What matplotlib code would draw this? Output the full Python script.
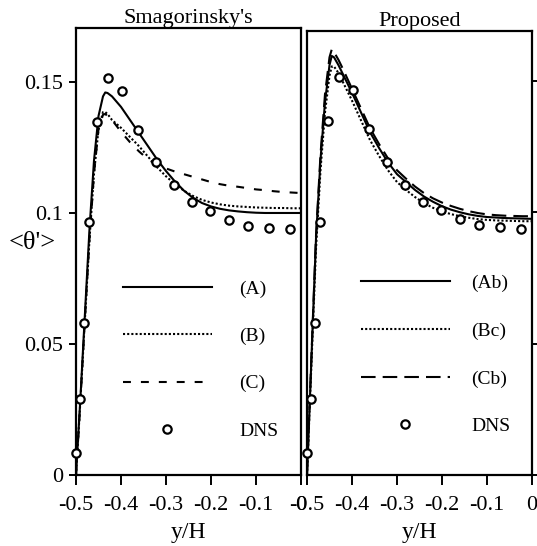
import matplotlib
matplotlib.use("Agg")
import matplotlib.pyplot as plt
from matplotlib.lines import Line2D

plt.rcParams['font.family'] = ['Liberation Serif', 'DejaVu Serif']

# DNS reference (same in both panels)
dns_x = [-0.5, -0.491, -0.482, -0.471, -0.453, -0.43, -0.398, -0.363, -0.323,
         -0.282, -0.243, -0.202, -0.159, -0.117, -0.071, -0.024]
dns_y = [0.0084, 0.029, 0.058, 0.0964, 0.1347, 0.1515, 0.1465, 0.1317, 0.1193,
         0.1105, 0.1041, 0.1008, 0.0975, 0.0952, 0.0943, 0.0937]

# Smagorinsky's panel
yl = [-0.5, -0.49, -0.48, -0.47, -0.46, -0.45, -0.44, -0.435, -0.43, -0.42, -0.40,
      -0.38, -0.36, -0.34, -0.32, -0.30, -0.28, -0.26, -0.24, -0.22, -0.20, -0.18,
      -0.16, -0.14, -0.12, -0.10, -0.08, -0.06, -0.04, -0.02, 0.0]
A = [0.0, 0.030, 0.062, 0.094, 0.120, 0.137, 0.1445, 0.146, 0.1458, 0.1445, 0.1405,
     0.1355, 0.1305, 0.1255, 0.1205, 0.116, 0.112, 0.1085, 0.1058, 0.1038, 0.1025,
     0.1016, 0.101, 0.1006, 0.1003, 0.1001, 0.1, 0.1, 0.1, 0.1, 0.1]
B = [0.0, 0.029, 0.060, 0.090, 0.115, 0.132, 0.1385, 0.1385, 0.1378, 0.1355, 0.1325,
     0.129, 0.1255, 0.1215, 0.1175, 0.114, 0.111, 0.1085, 0.1065, 0.105, 0.104,
     0.1033, 0.1028, 0.1025, 0.1023, 0.1021, 0.102, 0.1019, 0.1019, 0.1018, 0.1018]
C = [0.0, 0.029, 0.060, 0.090, 0.115, 0.132, 0.1375, 0.1378, 0.137, 0.1355, 0.131,
     0.127, 0.1235, 0.1205, 0.1183, 0.117, 0.1158, 0.1148, 0.1138, 0.1128, 0.1118,
     0.111, 0.1104, 0.11, 0.1095, 0.109, 0.1087, 0.1083, 0.108, 0.1078, 0.1076]

# Proposed panel
yr = [-0.5, -0.49, -0.48, -0.47, -0.46, -0.45, -0.445, -0.44, -0.43, -0.42, -0.40,
      -0.38, -0.36, -0.34, -0.32, -0.30, -0.28, -0.26, -0.24, -0.22, -0.20, -0.18,
      -0.16, -0.14, -0.12, -0.10, -0.08, -0.06, -0.04, -0.02, 0.0]
Ab = [0.0, 0.045, 0.09, 0.12, 0.142, 0.156, 0.1595, 0.159, 0.156, 0.1525, 0.1455,
      0.138, 0.1305, 0.1245, 0.119, 0.1145, 0.1115, 0.1085, 0.106, 0.104, 0.1023,
      0.101, 0.1, 0.0992, 0.0986, 0.0982, 0.098, 0.0978, 0.0977, 0.0976, 0.0975]
Bc = [0.0, 0.043, 0.086, 0.116, 0.138, 0.152, 0.1555, 0.1555, 0.153, 0.1495, 0.1425,
      0.135, 0.1275, 0.1215, 0.116, 0.1115, 0.1085, 0.1058, 0.1035, 0.1017, 0.1003,
      0.0993, 0.0985, 0.0979, 0.0974, 0.0971, 0.0969, 0.0968, 0.0967, 0.0966, 0.0966]
Cb = [0.0, 0.046, 0.091, 0.122, 0.145, 0.159, 0.162, 0.161, 0.158, 0.1545, 0.147,
      0.1395, 0.132, 0.126, 0.1205, 0.116, 0.1128, 0.1098, 0.1073, 0.1053, 0.1037,
      0.1024, 0.1013, 0.1004, 0.0997, 0.0992, 0.0989, 0.0987, 0.0986, 0.0985, 0.0985]

xticks = [-0.5, -0.4, -0.3, -0.2, -0.1, 0]
xlabels = ['-0.5', '-0.4', '-0.3', '-0.2', '-0.1', '0']
yticks = [0, 0.05, 0.1, 0.15]
ylabels = ['0', '0.05', '0.1', '0.15']

fig = plt.figure(figsize=(5.37, 5.46), dpi=100)
axL = fig.add_axes([76/537, 71/546, 225/537, 447/546])
axR = fig.add_axes([307/537, 71/546, 225/537, 444/546])

ms = dict(marker='o', ms=6, mfc='white', mec='black', mew=1.6, ls='none')
dotted = (0, (1, 1))

def draw(ax, x, s1, s2, s3, dash, title):
    ax.plot(x, s1, color='black', lw=1.5, ls='-')
    ax.plot(x, s2, color='black', lw=1.5, ls=dotted)
    ax.plot(x, s3, color='black', lw=1.5, ls=dash)
    ax.plot(dns_x, dns_y, clip_on=False, zorder=5, **ms)
    ax.set_xlim(-0.5, 0)
    ax.set_xticks(xticks)
    ax.set_xticklabels(xlabels, fontsize=16)
    ax.set_xlabel('y/H', fontsize=17, labelpad=5)
    ax.set_title(title, fontsize=16, pad=1)
    for sp in ax.spines.values():
        sp.set_linewidth(1.6)
    ax.tick_params(axis='x', direction='out', length=7, width=1.4, pad=8)
    handles = [Line2D([], [], color='black', lw=1.5, ls='-'),
               Line2D([], [], color='black', lw=1.5, ls=dotted),
               Line2D([], [], color='black', lw=1.5, ls=dash),
               Line2D([], [], **ms)]
    return handles

hL = draw(axL, yl, A, B, C, (0, (3.8, 4.8)), "Smagorinsky's")
axL.set_ylim(0, 0.1706)
axL.set_yticks(yticks)
axL.set_yticklabels(ylabels, fontsize=16)
axL.tick_params(axis='y', direction='out', length=5, width=1.4, pad=4)
axL.set_ylabel("<θ'>", fontsize=19, rotation=0, va='center')
axL.yaxis.set_label_coords(-0.195, 0.52)
axL.legend(hL, ['(A)', '(B)', '(C)', 'DNS'], loc='lower left',
           bbox_to_anchor=(0.13, 0.04), frameon=False, fontsize=14,
           handlelength=4.6, handletextpad=1.4, labelspacing=1.52)

hR = draw(axR, yr, Ab, Bc, Cb, (0, (7, 3.4)), "Proposed")
axR.set_ylim(0, 0.169)
axR.set_yticks(yticks)
axR.yaxis.tick_right()
axR.set_yticklabels([])
axR.tick_params(axis='y', direction='out', length=5, width=1.4)
axR.legend(hR, ['(Ab)', '(Bc)', '(Cb)', 'DNS'], loc='lower left',
           bbox_to_anchor=(0.16, 0.05), frameon=False, fontsize=14,
           handlelength=4.6, handletextpad=1.1, labelspacing=1.55)

fig.savefig('out.png', dpi=100)
